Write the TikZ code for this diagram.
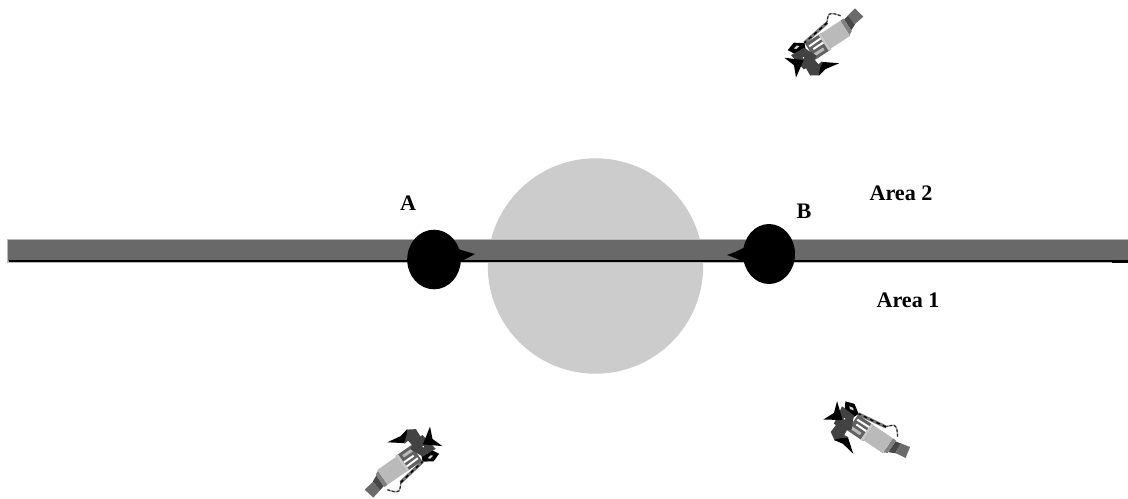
\documentclass[tikz,border=0pt]{standalone}
\usepackage{fontspec}
\setmainfont{Liberation Serif}
\definecolor{barg}{gray}{0.41}
\definecolor{discg}{gray}{0.80}
\tikzset{
  lbl/.style={font=\bfseries\fontsize{12.6}{14}\selectfont,inner sep=0pt,text=black},
  robot/.pic={
    % wire
    \draw[black!40,line width=0.8pt] (12,8) .. controls (14,11) and (18,16) .. (21,15.5) .. controls (24,15) and (24,12) .. (27,10);
    \draw[black!85,line width=0.6pt,dash pattern=on 1.5pt off 1.2pt] (12,8) .. controls (14,11) and (18,16) .. (21,15.5) .. controls (24,15) and (24,12) .. (27,10);
    \draw[black!55,line width=1.8pt] (27,9.5) -- (57,5);
    \draw[black,line width=0.8pt,dash pattern=on 2pt off 2pt] (27,9.5) -- (57,5);
    % tail
    \fill[black!58] (-4.1,6.4) -- (-6.6,-5.1) -- (4.3,-6.7) -- (6.4,4.1) -- cycle;
    \fill[black!72] (6,4) -- (11,3) -- (11,-10) -- (4.5,-7) -- cycle;
    \fill[black!50] (11,4) -- (15,4) -- (15,-13) -- (11,-11) -- cycle;
    % body
    \fill[black!27] (15,4) rectangle (38,-14);
    % mechanism
    \fill[black!62] (38,4) rectangle (57,-15);
    \fill[white] (39,1) -- (55,0.5) -- (55,-1.5) -- (39,-1) -- cycle;
    \fill[white] (41,-4) -- (53,-4) -- (53,-6) -- (41,-6) -- cycle;
    \fill[black!22] (38,4) rectangle (41,-15);
    \fill[black!28] (44,-9) rectangle (55,-12);
    % upper dark part
    \fill[black] (75,8) -- (66,11) -- (57,5) -- (60,-2) -- (70,-1) -- cycle;
    \fill[black!15] (69,6) -- (65,7) -- (63,5) -- (67,4.3) -- cycle;
    % head
    \fill[black!74] (75,2) -- (60,1) -- (54,-12) -- (60,-17) -- (72,-17) -- cycle;
    \fill[white] (66,-7) circle (0.9);
    % wedge
    \fill[black] (82,3.5) -- (67,-9) -- (83,-19.5) -- (78,-8) -- cycle;
    % arm
    \fill[black!74] (69.4,-15) -- (70,-25.5) -- (62.7,-30) -- (53.4,-28) -- (52.3,-20) -- (57,-20.5) -- (58,-12) -- cycle;
    \fill[black] (63,-30.5) -- (53.4,-28.5) -- (39,-31) -- (52,-21) -- (58,-25) -- cycle;
  }
}
\begin{document}
\begin{tikzpicture}[x=0.02cm,y=-0.02cm]
\useasboundingbox (0,0) rectangle (1128,498);
\fill[white] (0,0) rectangle (1128,498);
% disc
\fill[discg] (595.5,266) circle (107.7);
% bar
\fill[black!28] (7,239) rectangle (1128,263);
\fill[barg] (7.5,240) rectangle (1128,260.5);
\draw[black,line width=0.9pt] (9,261) -- (1128,261);
\fill[black] (1112,261) rectangle (1128,263);
% blobs
\fill[black] (434,259.5) ellipse (26.8 and 29.8);
\fill[black] (455,247.5) .. controls (460,250) and (468,252) .. (475,254) .. controls (470,257) and (463,260) .. (458,263) -- cycle;
\fill[black] (769,254) ellipse (26 and 30);
\fill[black] (745,247) .. controls (740,250) and (733,253) .. (727,255) .. controls (733,257) and (740,260) .. (746,263) -- cycle;
% robots
\pic[rotate=-147] at (855,16) {robot};
\pic[rotate=-325.2] at (373,490) {robot};
\pic[rotate=-214.1] at (903,450) {robot};
% labels
\node[lbl] (labA) at (408,203) {A};
\node[lbl] (labB) at (804,211) {B};
\node[lbl] (area2) at (901,193) {Area 2};
\node[lbl] (area1) at (908,300) {Area 1};
\end{tikzpicture}
\end{document}
